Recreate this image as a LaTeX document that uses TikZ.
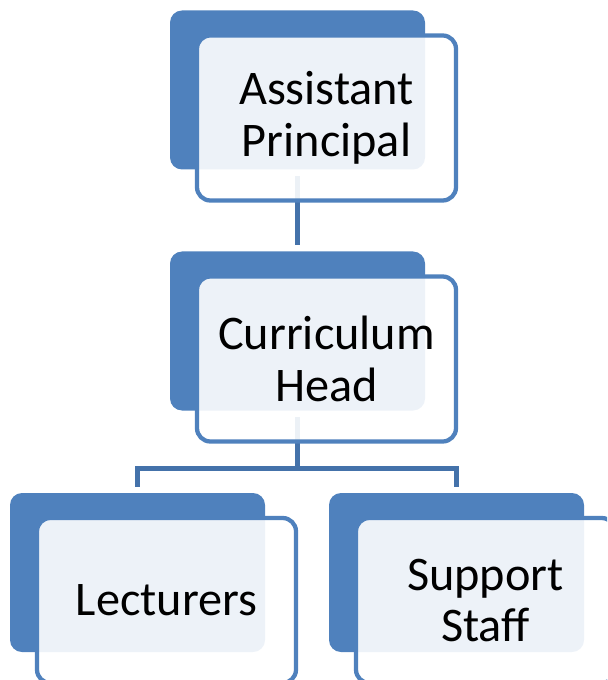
\documentclass[tikz,border=0pt]{standalone}
\usepackage{fontspec}
\setmainfont{Carlito}
\usepackage{xcolor}
\usetikzlibrary{calc}

\definecolor{boxblue}{HTML}{4F81BD}
\definecolor{linkblue}{HTML}{4472AA}

\tikzset{
  back/.style={fill=boxblue, rounded corners=9pt, inner sep=0pt,
    minimum width=191.25pt, minimum height=119.25pt},
  front/.style={draw=boxblue, line width=3.2pt, fill=white, fill opacity=0.9,
    text opacity=1, rounded corners=10pt, inner sep=0pt,
    minimum width=194.25pt, minimum height=123.75pt, align=center,
    font=\fontsize{36.2}{38.6}\selectfont},
  link/.style={draw=linkblue, line width=3.75pt},
}

\begin{document}
\begin{tikzpicture}[x=0.75pt, y=-0.75pt]
  \useasboundingbox (0,0) rectangle (607,680);
  \clip (0,0) rectangle (607,680);

  \def\dx{29}
  \def\dy{28}
  \def\gap{6}

  % dark boxes behind
  \node[back] (ap) at (297.5,90) {};
  \node[back] (ch) at (297.5,331) {};
  \node[back] (lec) at (137.5,572.5) {};
  \node[back] (sup) at (456.5,572.5) {};

  % connectors
  \coordinate (split) at ($(ch.south)+(0,57.5)$);
  \draw[link] ($(ap.south)+(0,\gap)$) -- ($(ch.north)-(0,\gap)$);
  \draw[link] ($(ch.south)+(0,\gap)$) -- (split);
  \draw[link] ($(lec.north)-(0,\gap)$) |- (split) -| ($(sup.north)-(0,\gap)$);

  % front boxes with the text
  \node[front] (ap-t) at ($(ap)+(\dx,\dy)$) {Assistant\\Principal};
  \node[front] (ch-t) at ($(ch)+(\dx,\dy)$) {Curriculum\\Head};
  \node[front] (lec-t) at ($(lec)+(\dx,\dy)$) {Lecturers};
  \node[front] (sup-t) at ($(sup)+(\dx,\dy)$) {Support\\Staff};

\end{tikzpicture}
\end{document}
